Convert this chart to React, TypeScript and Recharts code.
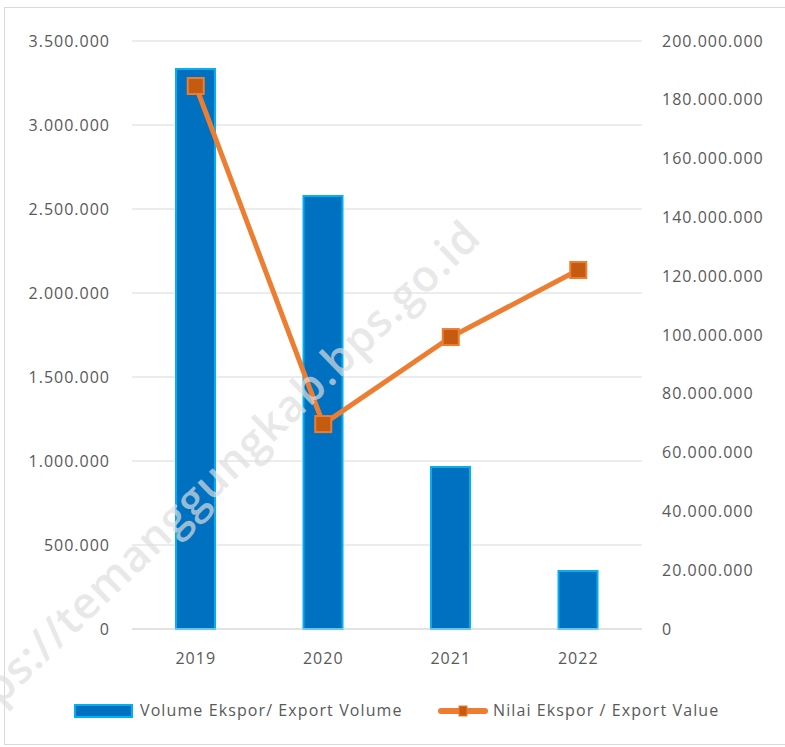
import React from "react";
import { Bar, CartesianGrid, ComposedChart, Legend, Line, XAxis, YAxis } from "recharts";

const years = ["2019", "2020", "2021", "2022"];
const exportVolume = [3333000, 2577000, 964000, 345000];
const exportValue = [184700000, 69700000, 99300000, 122100000];
const volumeTicks = [0, 500000, 1000000, 1500000, 2000000, 2500000, 3000000, 3500000];
const valueTicks = [0, 20000000, 40000000, 60000000, 80000000, 100000000, 120000000, 140000000, 160000000, 180000000, 200000000];

const data = years.map((year, i) => ({ year, volume: exportVolume[i], value: exportValue[i] }));

const FONT = "'Open Sans', 'Noto Sans', sans-serif";
const TEXT = "#595959";
const BLUE = "#0070C0";
const BLUE_EDGE = "#00B0F0";
const ORANGE = "#ED7D31";
const ORANGE_DARK = "#C55A11";

const fmt = (v: number) => (v === 0 ? "0" : v.toLocaleString("de-DE"));

const tickStyle = { fontSize: 16, fill: TEXT, fontFamily: FONT, letterSpacing: 1 };

function SquareDot(props: any) {
  const { cx, cy } = props;
  if (cx == null || cy == null) return null;
  return <rect x={cx - 8} y={cy - 8} width={16} height={16} fill={ORANGE_DARK} stroke={ORANGE} strokeWidth={2} />;
}

function LegendContent() {
  return (
    <div style={{ position: "relative", height: 30, fontFamily: FONT, fontSize: 16, color: TEXT, letterSpacing: 1.1, whiteSpace: "nowrap" }}>
      <svg width={60} height={16} style={{ position: "absolute", left: 74, top: 5 }}>
        <rect x={1} y={1} width={57} height={12} fill={BLUE} stroke={BLUE_EDGE} strokeWidth={2} />
      </svg>
      <span style={{ position: "absolute", left: 140, top: 0 }}>Volume Ekspor/ Export Volume</span>
      <svg width={50} height={16} style={{ position: "absolute", left: 438, top: 4 }}>
        <line x1={3} y1={8} x2={47} y2={8} stroke={ORANGE} strokeWidth={6} strokeLinecap="round" />
        <rect x={21} y={3} width={8} height={10} fill={ORANGE_DARK} stroke={ORANGE} strokeWidth={1} />
      </svg>
      <span style={{ position: "absolute", left: 493, top: 0 }}>Nilai Ekspor / Export Value</span>
    </div>
  );
}

export default function App() {
  return (
    <div style={{ position: "absolute", left: 0, top: 0, width: 785, height: 747, background: "#fff", overflow: "hidden" }}>
      <div style={{ position: "absolute", left: 4, top: 7, width: 800, height: 736, border: "1px solid #d9d9d9" }} />
      <ComposedChart width={785} height={747} data={data} margin={{ top: 41, right: 0, bottom: 30, left: 0 }}>
        <CartesianGrid vertical={false} stroke="#d9d9d9" yAxisId="left" />
        <XAxis
          dataKey="year"
          axisLine={{ stroke: "#d9d9d9" }}
          tickLine={false}
          tick={tickStyle}
          tickMargin={18}
          height={58}
        />
        <YAxis
          yAxisId="left"
          domain={[0, 3500000]}
          ticks={volumeTicks}
          tickFormatter={fmt}
          axisLine={false}
          tickLine={false}
          tickSize={0}
          tickMargin={22}
          width={132}
          tick={tickStyle}
          interval={0}
        />
        <YAxis
          yAxisId="right"
          orientation="right"
          domain={[0, 200000000]}
          ticks={valueTicks}
          tickFormatter={fmt}
          axisLine={false}
          tickLine={false}
          tickSize={0}
          tickMargin={20}
          width={143}
          tick={{ ...tickStyle, textAnchor: "start" }}
          interval={0}
        />
        <Bar
          yAxisId="left"
          dataKey="volume"
          name="Volume Ekspor/ Export Volume"
          fill={BLUE}
          stroke={BLUE_EDGE}
          strokeWidth={2}
          barSize={39}
          isAnimationActive={false}
        />
        <Line
          yAxisId="right"
          dataKey="value"
          name="Nilai Ekspor / Export Value"
          stroke={ORANGE}
          strokeWidth={5}
          dot={<SquareDot />}
          activeDot={false}
          isAnimationActive={false}
        />
        <Legend
          content={<LegendContent />}
          wrapperStyle={{ position: "absolute", left: 0, top: 699, width: 785 }}
        />
      </ComposedChart>
      <svg width={785} height={747} style={{ position: "absolute", left: 0, top: 0, pointerEvents: "none" }}>
        <text
          x={218}
          y={496}
          textAnchor="middle"
          transform="rotate(-44 218 496)"
          fontFamily={FONT}
          fontSize={44}
          fontWeight={600}
          letterSpacing={1}
          fill="rgba(222,222,222,0.7)"
        >
          https://temanggungkab.bps.go.id
        </text>
      </svg>
    </div>
  );
}
